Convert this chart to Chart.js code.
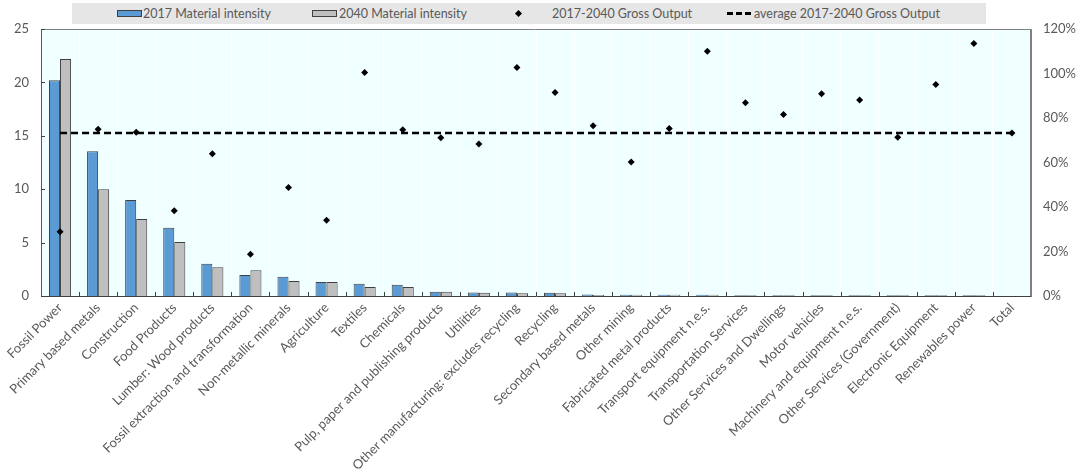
<!DOCTYPE html>
<html>
<head>
<meta charset="utf-8">
<script src="https://cdn.jsdelivr.net/npm/chart.js@4.4.0/dist/chart.umd.min.js"></script>
<style>
  body { margin: 0; background: #fff; font-family: Lato, sans-serif; }
  #wrap { position: relative; width: 1083px; height: 473px; }
  #legend { position: absolute; left: 72px; top: 3px; width: 914px; height: 21px; background: #e6e6e6; color: #595959; font-size: 12.5px; }
  #legend .label { position: absolute; top: 0; height: 21px; line-height: 21px; white-space: nowrap; }
  #legend .key { position: absolute; box-sizing: border-box; }
  .swatch { width: 25px; height: 7px; top: 7px; border: 1px solid #404040; }
  .diamond { width: 5px; height: 5px; top: 8px; background: #000; transform: rotate(45deg); }
  .dash { width: 25px; height: 3px; top: 9px; background: repeating-linear-gradient(90deg, #000 0 6px, transparent 6px 9px); }
</style>
</head>
<body>
<div id="wrap">
  <canvas id="chart" width="1083" height="473"></canvas>
  <div id="legend"></div>
</div>
<script>
const categories = [
  "Fossil Power", "Primary based metals", "Construction", "Food Products", "Lumber: Wood products",
  "Fossil extraction and transformation", "Non-metallic minerals", "Agriculture", "Textiles", "Chemicals",
  "Pulp, paper and publishing products", "Utilities", "Other manufacturing: excludes recycling", "Recycling",
  "Secondary based metals", "Other mining", "Fabricated metal products", "Transport equipment n.e.s.",
  "Transportation Services", "Other Services and Dwellings", "Motor vehicles", "Machinery and equipment n.e.s.",
  "Other Services (Government)", "Electronic Equipment", "Renewables power", "Total"
];
const intensity2017 = [20.2, 13.55, 9.0, 6.4, 3.03, 1.97, 1.8, 1.3, 1.15, 1.05, 0.4, 0.32, 0.33, 0.3, 0.14, 0.12, 0.12, 0.12, 0.07, 0.07, 0.07, 0.07, 0.07, 0.07, 0.07, null];
const intensity2040 = [22.2, 10.0, 7.2, 5.05, 2.7, 2.4, 1.4, 1.3, 0.85, 0.85, 0.4, 0.3, 0.25, 0.25, 0.1, 0.12, 0.12, 0.12, 0.07, 0.07, 0.07, 0.07, 0.07, 0.07, 0.07, null];
const grossOutput = [28.9, 75.0, 73.6, 38.3, 63.9, 18.8, 48.8, 34.1, 100.5, 74.7, 71.1, 68.3, 102.7, 91.5, 76.5, 60.2, 75.3, 110.0, 86.9, 81.6, 90.9, 88.1, 71.4, 95.1, 113.5, 73.3];
const averageGrossOutput = 73.3;
const seriesNames = ["2017 Material intensity", "2040 Material intensity", "2017-2040 Gross Output", "average 2017-2040 Gross Output"];

const textColor = "#595959";
Chart.defaults.font.family = "Lato, sans-serif";
Chart.defaults.color = textColor;

// legend strip, laid out like the original
const legendItems = [
  { keyClass: "swatch", fill: "#5b9bd5", keyLeft: 45, textLeft: 71 },
  { keyClass: "swatch", fill: "#bfbfbf", keyLeft: 240, textLeft: 267 },
  { keyClass: "diamond", fill: null, keyLeft: 444, textLeft: 480 },
  { keyClass: "dash", fill: null, keyLeft: 655, textLeft: 682 }
];
const legendBox = document.getElementById("legend");
legendItems.forEach((item, i) => {
  const key = document.createElement("div");
  key.className = `key ${item.keyClass}`;
  key.style.left = `${item.keyLeft}px`;
  if (item.fill) key.style.backgroundColor = item.fill;
  const label = document.createElement("div");
  label.className = "label";
  label.style.left = `${item.textLeft}px`;
  label.textContent = seriesNames[i];
  legendBox.append(key, label);
});

const plotFrame = {
  id: "plotFrame",
  beforeDraw(chart) {
    const { ctx, chartArea: a } = chart;
    ctx.save();
    ctx.fillStyle = "#f0ffff";
    ctx.fillRect(a.left, a.top, a.right - a.left, a.bottom - a.top);
    ctx.restore();
  },
  afterDraw(chart) {
    const { ctx, chartArea: a, scales } = chart;
    ctx.save();
    ctx.strokeStyle = "#808080";
    ctx.lineWidth = 1;
    ctx.beginPath();
    ctx.moveTo(a.left, a.top + 0.5);
    ctx.lineTo(a.right - 0.5, a.top + 0.5);
    ctx.lineTo(a.right - 0.5, a.bottom);
    ctx.stroke();
    // small inward tick marks
    ctx.strokeStyle = "#404040";
    ctx.beginPath();
    const step = (a.right - a.left) / categories.length;
    for (let i = 1; i < categories.length; i++) {
      const x = Math.round(scales.x.getPixelForValue(i) - step / 2) + 0.5;
      ctx.moveTo(x, a.bottom);
      ctx.lineTo(x, a.bottom - 4);
    }
    scales.y.ticks.forEach(t => {
      const y = Math.round(scales.y.getPixelForValue(t.value)) + 0.5;
      ctx.moveTo(a.left, y);
      ctx.lineTo(a.left + 4, y);
    });
    ctx.stroke();
    ctx.restore();
  }
};

new Chart(document.getElementById("chart"), {
  data: {
    labels: categories,
    datasets: [
      {
        type: "line", label: seriesNames[2], data: grossOutput, yAxisID: "y1", order: 0,
        showLine: false, pointStyle: "rectRot", pointRadius: 3.5,
        pointBackgroundColor: "#000", pointBorderColor: "#000", pointBorderWidth: 0
      },
      {
        type: "line", label: seriesNames[3], yAxisID: "y1", order: 1,
        data: [{ x: categories[0], y: averageGrossOutput }, { x: categories[categories.length - 1], y: averageGrossOutput }],
        borderColor: "#000", borderWidth: 2.5, borderDash: [7, 4], pointRadius: 0, fill: false
      },
      {
        type: "bar", label: seriesNames[0], data: intensity2017, yAxisID: "y", order: 2,
        backgroundColor: "#5b9bd5", borderColor: "#404040", borderWidth: 1,
        categoryPercentage: 0.58, barPercentage: 1
      },
      {
        type: "bar", label: seriesNames[1], data: intensity2040, yAxisID: "y", order: 3,
        backgroundColor: "#bfbfbf", borderColor: "#404040", borderWidth: 1,
        categoryPercentage: 0.58, barPercentage: 1
      }
    ]
  },
  options: {
    responsive: false,
    animation: false,
    layout: { padding: { top: 29 } },
    plugins: { legend: { display: false }, tooltip: { enabled: false } },
    scales: {
      x: {
        grid: { color: "rgba(255,255,255,0.9)", drawTicks: false, offset: true },
        border: { color: "#404040" },
        ticks: { autoSkip: false, minRotation: 45, maxRotation: 45, padding: 4, font: { size: 13 } },
        afterFit: s => { s.height = 177; s.paddingLeft = 0; s.paddingRight = 0; }
      },
      y: {
        position: "left", min: 0, max: 25,
        grid: { display: false, drawTicks: false },
        border: { color: "#595959" },
        ticks: { stepSize: 5, padding: 12, font: { size: 13 } },
        afterFit: s => { s.width = 41; }
      },
      y1: {
        position: "right", min: 0, max: 120,
        grid: { display: false, drawTicks: false },
        border: { color: "#808080" },
        ticks: { stepSize: 20, padding: 12, font: { size: 13 }, callback: v => `${v}%` },
        afterFit: s => { s.width = 52; }
      }
    }
  },
  plugins: [plotFrame]
});
</script>
</body>
</html>
